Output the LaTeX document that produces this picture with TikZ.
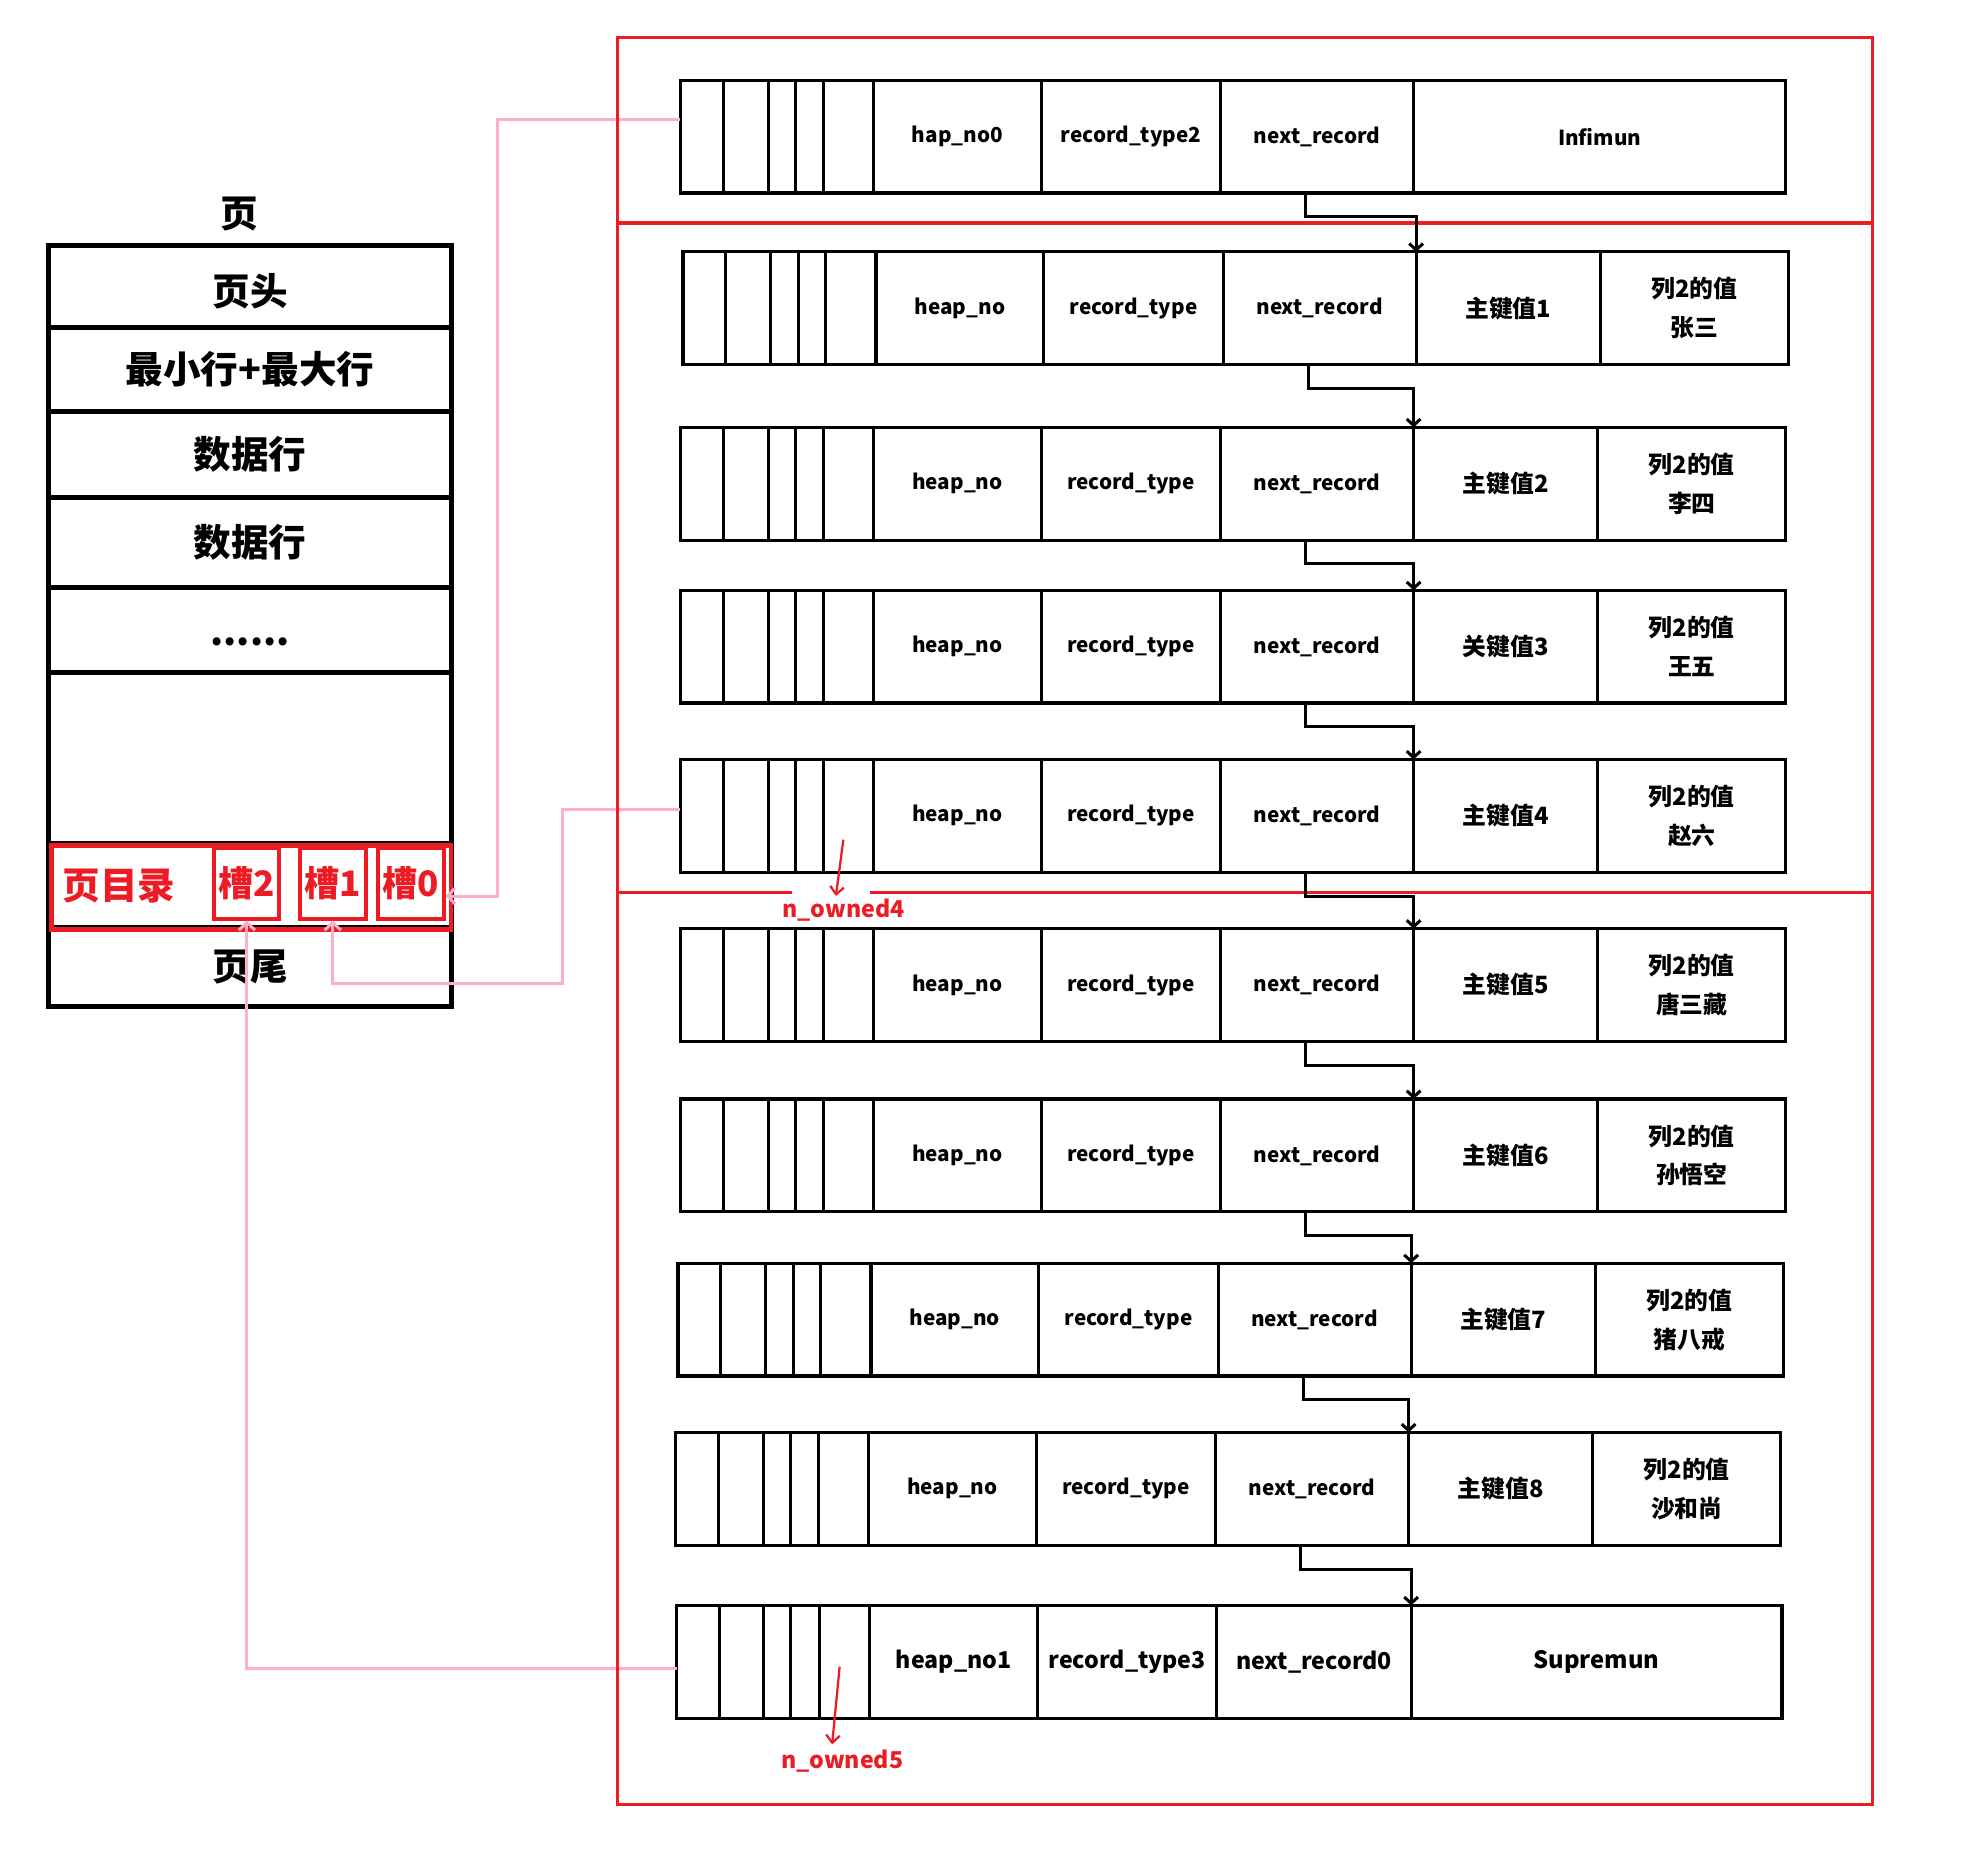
\documentclass[tikz,border=0pt]{standalone}
\usepackage{fontspec}
\setmainfont{Noto Sans CJK SC}
\usetikzlibrary{arrows.meta,positioning,calc}

\definecolor{paintred}{HTML}{ED1C24}
\definecolor{rosepink}{HTML}{FFAEC9}

\tikzset{
  cell/.style={draw, line width=2.5pt, minimum height=90pt, inner sep=0pt, outer sep=0pt,
    align=center, font=\bfseries\fontsize{19}{31}\selectfont},
  latintext/.style={font=\bfseries\fontsize{#1}{24}\selectfont},
  latintext/.default=16.5,
  pagerow/.style={draw, line width=4pt, minimum width=321pt, inner sep=0pt, outer sep=0pt,
    font=\bfseries\fontsize{30}{36}\selectfont},
  slotbox/.style={draw=paintred, line width=3.2pt, minimum width=52pt, minimum height=56pt,
    inner sep=0pt, text=paintred, font=\bfseries\fontsize{28}{32}\selectfont},
  nextlink/.style={line width=2.4pt, -{Straight Barb[length=5pt,width=11pt]}},
  slotlink/.style={rosepink, line width=2.4pt, -{Straight Barb[length=6pt,width=13pt]}},
  ownlink/.style={paintred, line width=1.8pt, -{Straight Barb[length=6pt,width=11pt]}},
  ownlabel/.style={text=paintred, inner sep=0pt, font=\bfseries\fontsize{18.5}{22}\selectfont},
  frameline/.style={paintred, line width=2.6pt}
}

\begin{document}
\begin{tikzpicture}[x=1pt,y=-1pt]
\useasboundingbox (0,0) rectangle (1568,1495);

% page layout on the left
\node[font=\bfseries\fontsize{30}{36}\selectfont] (pagetitle) at (191,171) {页};
\node[pagerow, minimum height=65pt, anchor=north west] (head) at (39,196) {\smash{\raisebox{-15pt}{页头}}};
\node[pagerow, minimum height=67pt, below=0pt of head] (minmax) {最小行+最大行};
\node[pagerow, minimum height=69pt, below=0pt of minmax] (data1) {数据行};
\node[pagerow, minimum height=72pt, below=0pt of data1] (data2) {数据行};
\node[pagerow, minimum height=68pt, below=0pt of data2] (dots) {\smash{\raisebox{-12pt}{......}}};
\node[pagerow, minimum height=136pt, below=0pt of dots] (free) {};
\node[pagerow, minimum height=67pt, below=0pt of free] (tail) {};
\node[pagerow, minimum height=63pt, below=0pt of tail] (foot) {页尾};
% page directory
\node[draw=paintred, line width=3.8pt, minimum width=319pt, minimum height=67pt,
  inner sep=0pt, anchor=north west] (dir) at (39,673) {};
\node[text=paintred, font=\bfseries\fontsize{30}{36}\selectfont] (dirlabel) at (95,707) {页目录};
\node[slotbox] (slot2) at (197,705) {槽2};
\node[slotbox, minimum width=53pt] (slot1) at (265.5,705) {槽1};
\node[slotbox] (slot0) at (328,705) {槽0};

% Infimum record
\node[cell, minimum width=34pt, anchor=north west] (r0-a) at (543,64) {};
\node[cell, minimum width=36pt, right=0pt of r0-a] (r0-b) {};
\node[cell, minimum width=22pt, right=0pt of r0-b] (r0-c) {};
\node[cell, minimum width=22pt, right=0pt of r0-c] (r0-d) {};
\node[cell, minimum width=40pt, right=0pt of r0-d] (r0-e) {};
\node[cell, latintext, minimum width=134pt, right=0pt of r0-e] (r0-heap) {hap\_no0};
\node[cell, latintext, minimum width=143pt, right=0pt of r0-heap] (r0-type) {record\_type2};
\node[cell, latintext, minimum width=154pt, right=0pt of r0-type] (r0-next) {next\_record};
\node[cell, latintext, minimum width=297pt, right=0pt of r0-next] (r0-key) {Infimun};

% user records
\foreach \n/\x/\y/\key/\val in {1/545/201/主键值1/张三, 2/543/341/主键值2/李四,
    3/543/471/关键值3/王五, 4/543/606/主键值4/赵六, 5/543/741/主键值5/唐三藏,
    6/543/877/主键值6/孙悟空, 7/541/1008/主键值7/猪八戒, 8/539/1143/主键值8/沙和尚} {
  \node[cell, minimum width=34pt, anchor=north west] (r\n-a) at (\x,\y) {};
  \node[cell, minimum width=36pt, right=0pt of r\n-a] (r\n-b) {};
  \node[cell, minimum width=22pt, right=0pt of r\n-b] (r\n-c) {};
  \node[cell, minimum width=22pt, right=0pt of r\n-c] (r\n-d) {};
  \node[cell, minimum width=40pt, right=0pt of r\n-d] (r\n-e) {};
  \node[cell, latintext, minimum width=134pt, right=0pt of r\n-e] (r\n-heap) {heap\_no};
  \node[cell, latintext, minimum width=143pt, right=0pt of r\n-heap] (r\n-type) {record\_type};
  \node[cell, latintext, minimum width=154pt, right=0pt of r\n-type] (r\n-next) {next\_record};
  \node[cell, minimum width=147pt, right=0pt of r\n-next] (r\n-key) {\key};
  \node[cell, minimum width=150pt, right=0pt of r\n-key] (r\n-val) {列2的值\\\val};
}

% Supremum record
\node[cell, minimum width=34pt, anchor=north west] (r9-a) at (540,1281) {};
\node[cell, minimum width=35pt, right=0pt of r9-a] (r9-b) {};
\node[cell, minimum width=22pt, right=0pt of r9-b] (r9-c) {};
\node[cell, minimum width=23pt, right=0pt of r9-c] (r9-d) {};
\node[cell, minimum width=40pt, right=0pt of r9-d] (r9-e) {};
\node[cell, latintext=18.5, minimum width=134pt, right=0pt of r9-e] (r9-heap) {heap\_no1};
\node[cell, latintext=18.5, minimum width=143pt, right=0pt of r9-heap] (r9-type) {record\_type3};
\node[cell, latintext=18.5, minimum width=155pt, right=0pt of r9-type] (r9-next) {next\_record0};
\node[cell, latintext=19, minimum width=296pt, right=0pt of r9-next] (r9-key) {Supremun};

% slots pointing at the records they own
\draw[slotlink] ([yshift=14pt]r0-a.west) -- ++(-146,0) |- ([yshift=-10pt]slot0.east);
\draw[slotlink] ([yshift=5pt]r4-a.west) -- ++(-94,0) -- ++(0,139) -| (slot1.south);
\draw[slotlink] ([yshift=-5pt]r9-a.west) -| (slot2.south);

% groups
\node[ownlabel] (own4) at (673,726) {n\_owned4};
\node[ownlabel] (own5) at (672,1405) {n\_owned5};
\draw[frameline] (493,30) rectangle (1494,1440);
\draw[frameline] (493,178) -- (1494,178);
\draw[frameline] (493,712) -- (632,712);
\draw[frameline] (694,712) -- (1494,712);

% next_record chain
\foreach \i [evaluate=\i as \j using int(\i+1)] in {0,...,8} {
  \draw[nextlink] ([xshift=-9pt]r\i-next.south) -- ++(0,19) -| (r\j-key.north west);
}

% n_owned marks
\coordinate (own4from) at (673,670);
\coordinate (own5from) at (670,1330);
\draw[ownlink] (own4from) -- ([xshift=-6pt,yshift=2pt]own4.north);
\draw[ownlink] (own5from) -- ([xshift=-8pt,yshift=4pt]own5.north);
\end{tikzpicture}
\end{document}
